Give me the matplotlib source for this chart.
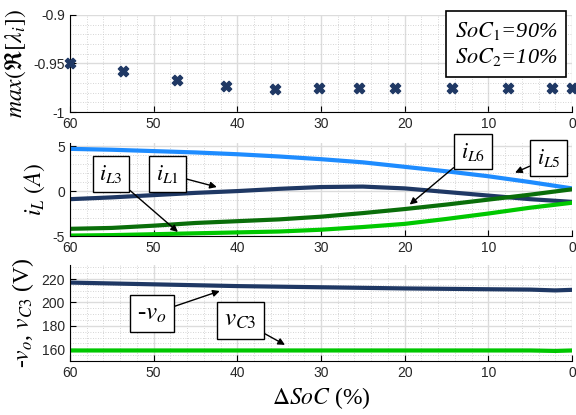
import numpy as np
import matplotlib
matplotlib.use("Agg")
import matplotlib.pyplot as plt
from matplotlib.ticker import MultipleLocator

plt.rcParams['font.family'] = ['Liberation Sans', 'DejaVu Sans']
plt.rcParams['mathtext.fontset'] = 'stix'

# eigenvalue scan
soc_eig = [60, 53.7, 47.2, 41.3, 35.5, 30.2, 25.4, 21.2, 14.3, 7.7, 2.4, 0]
max_re = [-0.949, -0.958, -0.9665, -0.973, -0.976, -0.975, -0.975,
          -0.975, -0.975, -0.975, -0.975, -0.975]

# inductor currents
soc = [60, 55, 50, 45, 40, 35, 30, 25, 20, 15, 10, 5, 0]
i_l5 = [4.7, 4.6, 4.45, 4.3, 4.1, 3.85, 3.55, 3.2, 2.7, 2.2, 1.65, 1.0, 0.3]
i_l1 = [-0.9, -0.7, -0.45, -0.2, 0.0, 0.25, 0.45, 0.5, 0.3, -0.1, -0.5, -0.9, -1.2]
i_l6 = [-4.2, -4.1, -3.85, -3.55, -3.35, -3.15, -2.85, -2.45, -2.0, -1.5, -0.95, -0.4, 0.2]
i_l3 = [-4.95, -4.9, -4.8, -4.7, -4.6, -4.5, -4.3, -4.0, -3.65, -3.1, -2.5, -1.85, -1.3]

# voltages
soc_v = [60, 50, 40, 30, 20, 10, 5, 2, 0]
v_o = [217, 215.5, 214, 213, 212, 211.3, 211, 210.3, 210.8]
v_c3 = [159, 159, 159, 159, 159, 159, 159, 158.6, 159]

NAVY = '#1f3864'
BLUE = '#1e8cff'
DGREEN = '#0a6e0a'
LGREEN = '#00c800'
SERIF = 'Liberation Serif'

fig = plt.figure(figsize=(5.76, 4.15), dpi=100)
ax1 = fig.add_axes([0.1215, 0.730, 0.8715, 0.234])
ax2 = fig.add_axes([0.1215, 0.4313, 0.8715, 0.2241])
ax3 = fig.add_axes([0.1215, 0.1301, 0.8715, 0.2313])


def style(ax, ymajor, yminor):
    ax.set_xlim(60, 0)
    ax.xaxis.set_major_locator(MultipleLocator(10))
    ax.xaxis.set_minor_locator(MultipleLocator(2))
    ax.yaxis.set_major_locator(MultipleLocator(ymajor))
    ax.yaxis.set_minor_locator(MultipleLocator(yminor))
    ax.grid(True, which='major', color='#dcdcdc', lw=1.0)
    ax.grid(True, which='minor', color='#c8c8c8', lw=0.6, ls=(0, (1, 2)))
    ax.set_axisbelow(True)
    for s in ['top', 'right']:
        ax.spines[s].set_visible(False)
    ax.tick_params(which='both', direction='in', labelsize=10, colors='#262626')
    ax.tick_params(which='minor', length=0)
    ax.tick_params(which='major', length=4, width=0.8, colors='black', labelcolor='#262626')


def box_note(ax, text, xytext, xy, size=16):
    ax.annotate(text, xy=xy, xytext=xytext, ha='center', va='center',
                fontsize=size, fontfamily=SERIF,
                bbox=dict(boxstyle='square,pad=0.3', fc='white', ec='black', lw=1.0),
                arrowprops=dict(arrowstyle='-|>', color='black', lw=1.0,
                                mutation_scale=10, shrinkA=0, shrinkB=0))


# top panel
style(ax1, 0.05, 0.01)
ax1.set_ylim(-1, -0.9)
ax1.set_yticks([-1, -0.95, -0.9])
ax1.set_yticklabels(['-1', '-0.95', '-0.9'])
ax1.scatter(soc_eig, max_re, marker='X', s=55, color=NAVY, clip_on=False, zorder=3)
ax1.set_ylabel(r'$max(\Re[\lambda_i])$', fontsize=17, fontfamily=SERIF)
ax1.text(7.85, -0.930, '$SoC_1$=90%\n$SoC_2$=10%', ha='center', va='center',
         fontsize=16, fontfamily=SERIF, fontstyle='italic', linespacing=1.25,
         bbox=dict(boxstyle='square,pad=0.4', fc='white', ec='black', lw=1.2))

# middle panel
style(ax2, 5, 1)
ax2.set_ylim(-5, 5.35)
ax2.set_yticks([-5, 0, 5])
ax2.set_yticklabels(['-5', '0', '5'])
ax2.plot(soc, i_l5, color=BLUE, lw=3)
ax2.plot(soc, i_l1, color=NAVY, lw=3)
ax2.plot(soc, i_l6, color=DGREEN, lw=3)
ax2.plot(soc, i_l3, color=LGREEN, lw=3)
ax2.set_ylabel(r'$i_L\ (A)$', fontsize=17, fontfamily=SERIF)
box_note(ax2, r'$i_{L3}$', (55.1, 1.9), (47.1, -4.55))
box_note(ax2, r'$i_{L1}$', (48.35, 1.9), (42.45, 0.45))
box_note(ax2, r'$i_{L6}$', (11.85, 4.4), (19.4, -1.5))
box_note(ax2, r'$i_{L5}$', (2.8, 3.7), (6.8, 2.05))

# bottom panel
style(ax3, 20, 5)
ax3.set_ylim(150, 232)
ax3.set_yticks([160, 180, 200, 220])
ax3.plot(soc_v, v_o, color=NAVY, lw=3)
ax3.plot(soc_v, v_c3, color=LGREEN, lw=3)
ax3.set_ylabel(r'-$v_o$, $v_{C3}$ (V)', fontsize=17, fontfamily=SERIF)
box_note(ax3, r'-$v_o$', (50.2, 190.2), (42.1, 209.8), size=18)
box_note(ax3, r'$v_{C3}$', (39.6, 184.7), (34.3, 163.8), size=18)
ax3.set_xlabel(r'$\Delta SoC$ (%)', fontsize=17, fontfamily=SERIF, labelpad=4)

fig.align_ylabels([ax1, ax2, ax3])

fig.savefig('out.png', dpi=100)
